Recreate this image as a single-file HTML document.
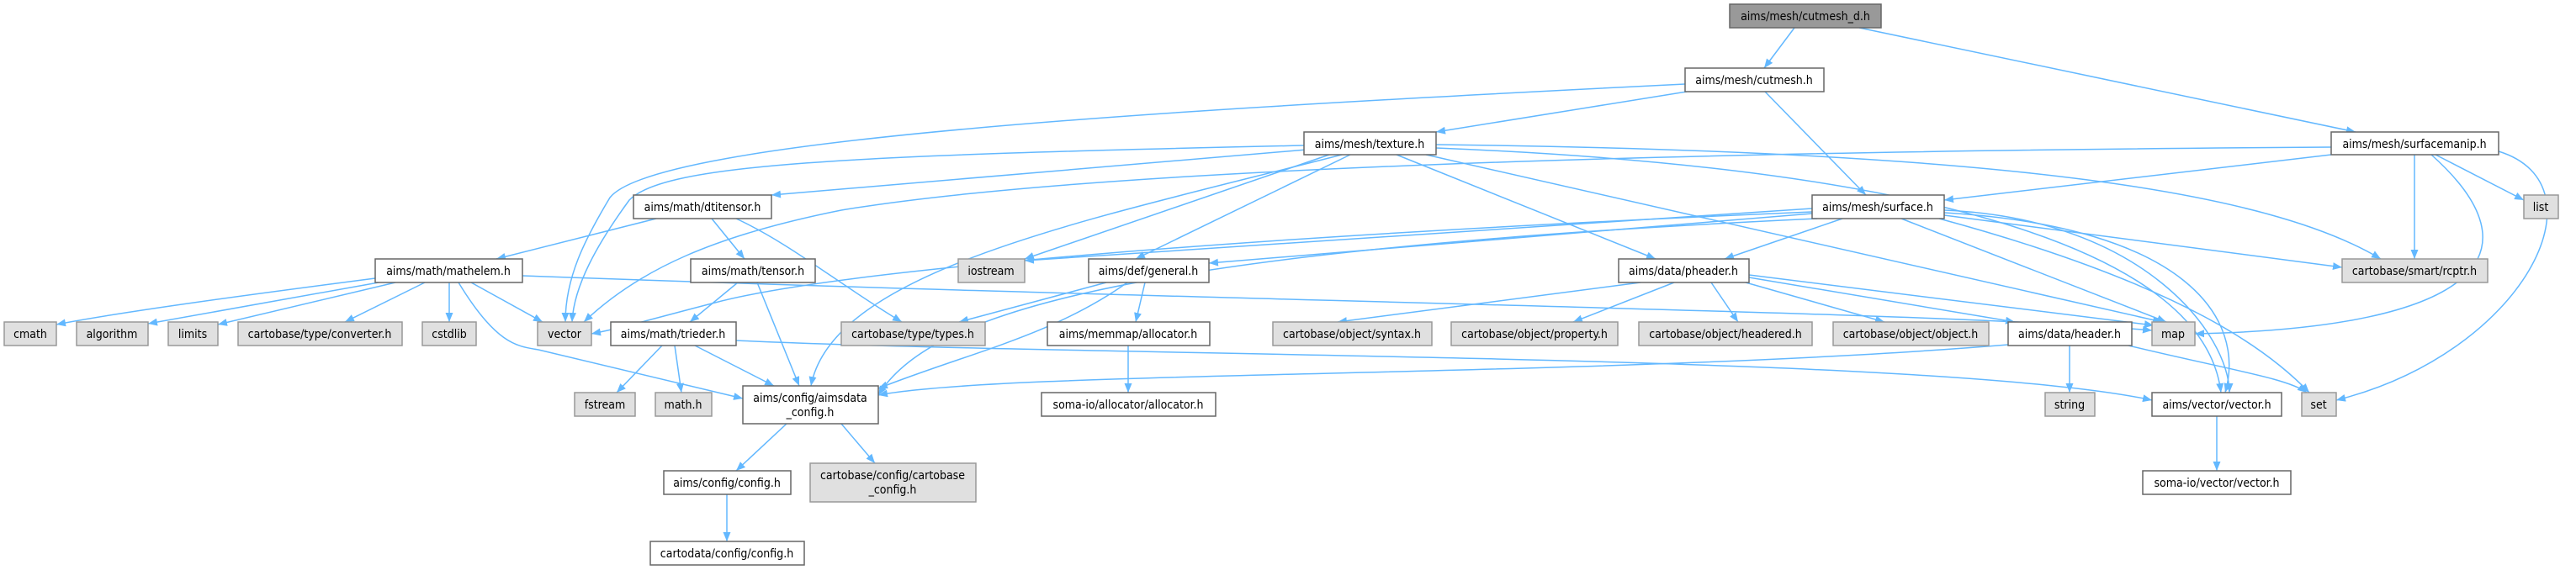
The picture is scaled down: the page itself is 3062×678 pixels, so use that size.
<!DOCTYPE html>
<html><head><meta charset="utf-8"><style>
html,body{margin:0;padding:0;background:#fff;}
svg{display:block;}
text{font-family:"DejaVu Sans Condensed","Liberation Sans Narrow","Liberation Sans",sans-serif;font-size:14px;fill:#000;}
.w{fill:#fff;stroke:#666;stroke-width:1.5;}
.g{fill:#e0e0e0;stroke:#999;stroke-width:1.5;}
.d{fill:#999;stroke:#666;stroke-width:1.5;}
.e{fill:none;stroke:#63b8ff;stroke-width:1.5;marker-end:url(#a);}
</style></head><body>
<svg width="3062" height="678" viewBox="0 0 3062 678" xmlns="http://www.w3.org/2000/svg">
<defs><marker id="a" markerUnits="userSpaceOnUse" markerWidth="12" markerHeight="10" refX="11" refY="4.5" orient="auto"><path d="M0,0 L11,4.5 L0,9 z" fill="#63b8ff"/></marker></defs>
<g>
<path class="e" d="M2133,33 L2097,81"/>
<path class="e" d="M2210,33 L2800,157"/>
<path class="e" d="M2003,100 C1400,130 780,165 725,235 C695,285 672,330 672,383"/>
<path class="e" d="M2005,109 L1707,157"/>
<path class="e" d="M2098,109 L2218,232"/>
<path class="e" d="M1550,173 C1000,185 790,195 748,238 C710,290 682,340 680,383"/>
<path class="e" d="M1553,178 L917,232"/>
<path class="e" d="M1580,184 L1218,308"/>
<path class="e" d="M1605,184 L1350,308"/>
<path class="e" d="M1660,184 L1968,308"/>
<path class="e" d="M1695,184 L2570,383"/>
<path class="e" d="M1595,184 C1300,260 990,320 964,459"/>
<path class="e" d="M1707,172 C2400,180 2700,230 2830,308"/>
<path class="e" d="M1707,176 C2300,200 2620,300 2640,467"/>
<path class="e" d="M2771,184 L2311,238"/>
<path class="e" d="M2771,175 C2000,180 1300,200 1000,250 C850,280 760,320 694,383"/>
<path class="e" d="M2870,184 L2870,308"/>
<path class="e" d="M2895,184 L3000,238"/>
<path class="e" d="M2890,184 C3020,300 2950,390 2609,397"/>
<path class="e" d="M2970,180 C3100,220 3000,420 2777,476"/>
<path class="e" d="M2154,252 C1500,280 1000,320 850,360 C780,378 740,390 703,397"/>
<path class="e" d="M2154,248 L1218,310"/>
<path class="e" d="M2154,254 L1437,313"/>
<path class="e" d="M2190,260 L2050,308"/>
<path class="e" d="M2260,260 L2575,383"/>
<path class="e" d="M2311,256 L2784,318"/>
<path class="e" d="M2311,250 C2550,260 2650,400 2650,467"/>
<path class="e" d="M2311,253 C2600,270 2670,380 2645,467"/>
<path class="e" d="M2305,260 C2600,340 2700,420 2745,467"/>
<path class="e" d="M2160,260 C1300,300 1100,380 1044,470"/>
<path class="e" d="M780,260 L590,308"/>
<path class="e" d="M846,260 L885,308"/>
<path class="e" d="M875,260 C940,290 1000,340 1072,383"/>
<path class="e" d="M446,331 C300,350 150,370 67,386"/>
<path class="e" d="M450,336 L176,385"/>
<path class="e" d="M470,336 L259,386"/>
<path class="e" d="M505,336 L410,383"/>
<path class="e" d="M534,336 L534,383"/>
<path class="e" d="M560,336 L645,383"/>
<path class="e" d="M621,328 C1500,360 2300,370 2558,393"/>
<path class="e" d="M545,336 C590,410 615,412 640,416 L883,474"/>
<path class="e" d="M877,336 L820,383"/>
<path class="e" d="M900,336 L950,459"/>
<path class="e" d="M787,411 L733,467"/>
<path class="e" d="M802,411 L810,467"/>
<path class="e" d="M826,411 L920,459"/>
<path class="e" d="M875,405 C1300,425 2300,420 2558,476"/>
<path class="e" d="M1315,336 L1140,383"/>
<path class="e" d="M1361,336 L1350,383"/>
<path class="e" d="M1340,336 C1250,400 1150,420 1044,462"/>
<path class="e" d="M1341,411 L1341,467"/>
<path class="e" d="M1950,336 L1590,383"/>
<path class="e" d="M1990,336 L1870,383"/>
<path class="e" d="M2034,336 L2066,383"/>
<path class="e" d="M2075,336 L2240,383"/>
<path class="e" d="M2079,330 L2395,383"/>
<path class="e" d="M2079,327 L2560,387"/>
<path class="e" d="M2460,411 L2460,467"/>
<path class="e" d="M2387,410 C1900,450 1200,440 1044,470"/>
<path class="e" d="M2530,411 C2650,440 2720,450 2742,467"/>
<path class="e" d="M935,504 L875,560"/>
<path class="e" d="M1000,504 L1040,551"/>
<path class="e" d="M864,588 L864,644"/>
<path class="e" d="M2635,495 L2635,560"/>
</g>
<g text-anchor="middle">
<rect class="d" x="2056" y="5" width="180" height="28"/><text x="2146" y="24">aims/mesh/cutmesh_d.h</text>
<rect class="w" x="2003" y="81" width="165" height="28"/><text x="2085" y="100">aims/mesh/cutmesh.h</text>
<rect class="w" x="1550" y="157" width="157" height="27"/><text x="1628" y="176">aims/mesh/texture.h</text>
<rect class="w" x="2771" y="157" width="199" height="27"/><text x="2870" y="176">aims/mesh/surfacemanip.h</text>
<rect class="w" x="753" y="232" width="164" height="28"/><text x="835" y="251">aims/math/dtitensor.h</text>
<rect class="w" x="2154" y="232" width="157" height="28"/><text x="2232" y="251">aims/mesh/surface.h</text>
<rect class="g" x="3000" y="232" width="41" height="28"/><text x="3020" y="251">list</text>
<rect class="w" x="446" y="308" width="175" height="28"/><text x="533" y="327">aims/math/mathelem.h</text>
<rect class="w" x="821" y="308" width="148" height="28"/><text x="895" y="327">aims/math/tensor.h</text>
<rect class="g" x="1139" y="308" width="79" height="28"/><text x="1178" y="327">iostream</text>
<rect class="w" x="1294" y="308" width="143" height="28"/><text x="1365" y="327">aims/def/general.h</text>
<rect class="w" x="1924" y="308" width="155" height="28"/><text x="2001" y="327">aims/data/pheader.h</text>
<rect class="g" x="2784" y="308" width="173" height="28"/><text x="2870" y="327">cartobase/smart/rcptr.h</text>
<rect class="g" x="5" y="383" width="62" height="28"/><text x="36" y="402">cmath</text>
<rect class="g" x="91" y="383" width="85" height="28"/><text x="133" y="402">algorithm</text>
<rect class="g" x="200" y="383" width="59" height="28"/><text x="229" y="402">limits</text>
<rect class="g" x="283" y="383" width="195" height="28"/><text x="380" y="402">cartobase/type/converter.h</text>
<rect class="g" x="502" y="383" width="64" height="28"/><text x="534" y="402">cstdlib</text>
<rect class="g" x="639" y="383" width="64" height="28"/><text x="671" y="402">vector</text>
<rect class="w" x="726" y="383" width="149" height="28"/><text x="800" y="402">aims/math/trieder.h</text>
<rect class="g" x="1000" y="383" width="171" height="28"/><text x="1085" y="402">cartobase/type/types.h</text>
<rect class="w" x="1245" y="383" width="193" height="28"/><text x="1341" y="402">aims/memmap/allocator.h</text>
<rect class="g" x="1513" y="383" width="189" height="28"/><text x="1607" y="402">cartobase/object/syntax.h</text>
<rect class="g" x="1725" y="383" width="198" height="28"/><text x="1824" y="402">cartobase/object/property.h</text>
<rect class="g" x="1948" y="383" width="206" height="28"/><text x="2051" y="402">cartobase/object/headered.h</text>
<rect class="g" x="2179" y="383" width="185" height="28"/><text x="2271" y="402">cartobase/object/object.h</text>
<rect class="w" x="2387" y="383" width="147" height="28"/><text x="2460" y="402">aims/data/header.h</text>
<rect class="g" x="2558" y="383" width="51" height="28"/><text x="2583" y="402">map</text>
<rect class="g" x="683" y="467" width="72" height="28"/><text x="719" y="486">fstream</text>
<rect class="g" x="779" y="467" width="67" height="28"/><text x="812" y="486">math.h</text>
<rect class="w" x="883" y="459" width="161" height="45"/><text x="963" y="478">aims/config/aimsdata</text><text x="963" y="495">_config.h</text>
<rect class="w" x="1238" y="467" width="207" height="28"/><text x="1341" y="486">soma-io/allocator/allocator.h</text>
<rect class="g" x="2431" y="467" width="59" height="28"/><text x="2460" y="486">string</text>
<rect class="w" x="2558" y="467" width="154" height="28"/><text x="2635" y="486">aims/vector/vector.h</text>
<rect class="g" x="2736" y="467" width="41" height="28"/><text x="2756" y="486">set</text>
<rect class="w" x="789" y="560" width="151" height="28"/><text x="864" y="579">aims/config/config.h</text>
<rect class="g" x="963" y="551" width="197" height="46"/><text x="1061" y="570">cartobase/config/cartobase</text><text x="1061" y="587">_config.h</text>
<rect class="w" x="2547" y="560" width="176" height="28"/><text x="2635" y="579">soma-io/vector/vector.h</text>
<rect class="w" x="773" y="644" width="183" height="28"/><text x="864" y="663">cartodata/config/config.h</text>
</g>
</svg>
</body></html>
